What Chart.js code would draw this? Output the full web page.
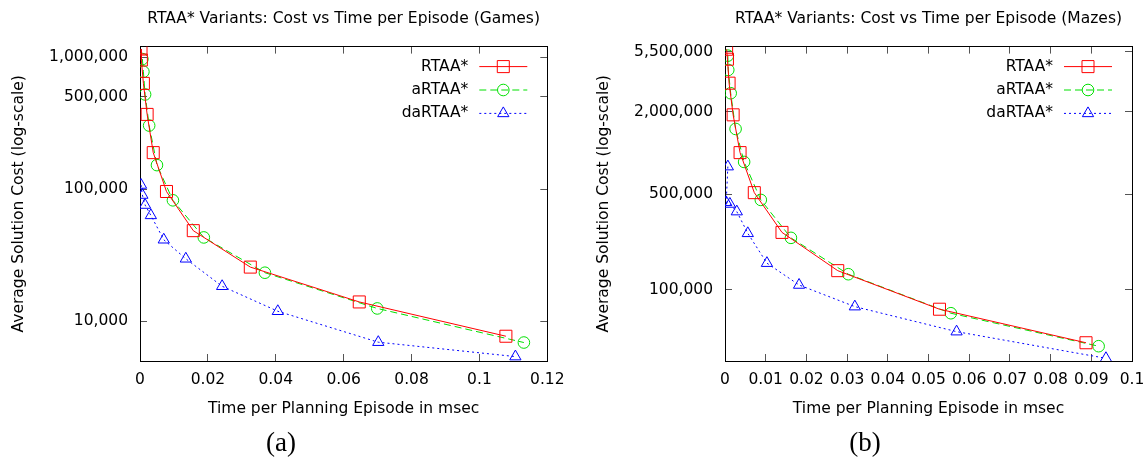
<!DOCTYPE html>
<html>
<head>
<meta charset="utf-8">
<script src="https://cdn.jsdelivr.net/npm/chart.js@4.4.0/dist/chart.umd.min.js"></script>
<style>
  body { margin: 0; background: #fff; }
  #wrap { position: relative; width: 1148px; height: 462px; overflow: hidden; }
  canvas { position: absolute; top: 0; }
  #games { left: 0; }
  #mazes { left: 574px; }
  .cap { position: absolute; top: 427px; width: 100px; text-align: center;
         font-family: "Liberation Serif", serif; font-size: 27px; line-height: 30px; }
</style>
</head>
<body>
<div id="wrap">
  <canvas id="games" width="574" height="462"></canvas>
  <canvas id="mazes" width="574" height="462"></canvas>
  <div class="cap" style="left:231px">(a)</div>
  <div class="cap" style="left:815px">(b)</div>
</div>
<script>
// Series
const series = ["RTAA*", "aRTAA*", "daRTAA*"];

// (a) Games: tiempo por episodio (msec) y costo promedio
const gamesRtaaT = [0.0003, 0.0004, 0.001, 0.0021, 0.0039, 0.0078, 0.0157, 0.0325, 0.0646, 0.1078];
const gamesRtaaC = [1150000, 950000, 632000, 368000, 189000, 96000, 48500, 25700, 14000, 7700];
const gamesARtaaT = [0.0007, 0.001, 0.0015, 0.0027, 0.005, 0.0097, 0.0188, 0.0368, 0.0699, 0.1131];
const gamesARtaaC = [966000, 774000, 521000, 303000, 152000, 82300, 43100, 23300, 12500, 6900];
const gamesDaRtaaT = [0.0003, 0.0007, 0.0015, 0.0032, 0.007, 0.0135, 0.0242, 0.0406, 0.0702, 0.1106];
const gamesDaRtaaC = [107500, 90300, 75800, 63300, 41400, 29700, 18400, 11900, 6940, 5400];

// (b) Mazes
const mazesRtaaT = [0.0004, 0.0006, 0.001, 0.002, 0.0037, 0.0072, 0.014, 0.0277, 0.0527, 0.0887];
const mazesRtaaC = [5740000, 4850000, 3240000, 1900000, 1005000, 512000, 262000, 137500, 71800, 40800];
const mazesARtaaT = [0.0007, 0.0008, 0.0014, 0.0026, 0.0047, 0.0088, 0.0162, 0.0303, 0.0555, 0.0918];
const mazesARtaaC = [5150000, 4050000, 2735000, 1498000, 859000, 453000, 239000, 129500, 67100, 38500];
const mazesDaRtaaT = [0.0007, 0.0003, 0.0012, 0.0029, 0.0056, 0.0103, 0.0182, 0.0319, 0.0569, 0.0936];
const mazesDaRtaaC = [794000, 435000, 423000, 372000, 258000, 156000, 108000, 75000, 49200, 31400];

// Ticks
const xTicksGames = [0, 0.02, 0.04, 0.06, 0.08, 0.1, 0.12];
const xTicksMazes = [0, 0.01, 0.02, 0.03, 0.04, 0.05, 0.06, 0.07, 0.08, 0.09, 0.1];
const yTicksGames = [10000, 100000, 500000, 1000000];
const yTicksMazes = [100000, 500000, 2000000, 5500000];

Chart.defaults.font.family = "'DejaVu Sans', sans-serif";
Chart.defaults.font.size = 15.5;
Chart.defaults.color = "#000";

const estilos = [
  { color: "#ff0000", dash: [], punto: "rect", radio: 8.5 },
  { color: "#00e000", dash: [7, 4], punto: "circle", radio: 5.8 },
  { color: "#0000ff", dash: [2, 3], punto: "triangle", radio: 6.5 },
];

function armarDatasets(tiempos, costos) {
  return series.map((nombre, i) => ({
    label: nombre,
    data: tiempos[i].map((t, j) => ({ x: t, y: costos[i][j] })),
    borderColor: estilos[i].color,
    borderWidth: 1,
    borderDash: estilos[i].dash,
    pointStyle: estilos[i].punto,
    pointRadius: estilos[i].radio,
    pointBorderColor: estilos[i].color,
    pointBackgroundColor: "rgba(0,0,0,0)",
    pointBorderWidth: 1,
    tension: 0,
    fill: false,
  }));
}

// leyenda al estilo gnuplot: texto a la izquierda, muestra a la derecha
const leyendaGnuplot = {
  id: "leyendaGnuplot",
  afterDatasetsDraw(chart) {
    const { ctx, chartArea } = chart;
    ctx.save();
    chart.data.datasets.forEach((ds, i) => {
      const y = chartArea.top + 20 + i * 23.4;
      ctx.font = "15.5px 'DejaVu Sans'";
      ctx.fillStyle = "#000";
      ctx.textAlign = "right";
      ctx.textBaseline = "middle";
      ctx.fillText(ds.label, chartArea.right - 79, y);
      ctx.strokeStyle = ds.borderColor;
      ctx.lineWidth = 1;
      ctx.setLineDash(ds.borderDash);
      ctx.beginPath();
      ctx.moveTo(chartArea.right - 68, y);
      ctx.lineTo(chartArea.right - 20, y);
      ctx.stroke();
      ctx.setLineDash([]);
      ctx.fillStyle = "rgba(0,0,0,0)";
      Chart.helpers.drawPoint(
        ctx,
        { pointStyle: ds.pointStyle, radius: ds.pointRadius, rotation: 0, borderWidth: 1 },
        chartArea.right - 44,
        y
      );
    });
    ctx.restore();
  },
};

function grafico(id, titulo, datasets, xTicks, yTicks, yMin, yMax, anchoY, padTituloY, padDerecha) {
  const gridTicks = { drawOnChartArea: false, tickLength: -7, tickColor: "#555", lineWidth: 1 };
  const borde = { color: "#000", width: 1 };
  const ponerTicks = (lista) => (s) => {
    s.ticks = lista.map((v) => ({ value: v }));
  };
  // sin relleno extra de las etiquetas, para fijar el área del gráfico
  const sinRelleno = (alto) => (s) => {
    s.height = alto;
    s.paddingLeft = 0;
    s.paddingRight = 0;
  };
  new Chart(document.getElementById(id), {
    type: "line",
    data: { datasets: datasets },
    plugins: [leyendaGnuplot],
    options: {
      responsive: false,
      animation: false,
      devicePixelRatio: 1,
      layout: { padding: { top: 0, left: 0, bottom: 0, right: padDerecha } },
      plugins: {
        legend: { display: false },
        tooltip: { enabled: false },
        title: {
          display: true,
          fullSize: false,
          text: titulo,
          color: "#000",
          font: { size: 15.5, weight: "normal" },
          padding: { top: 10, bottom: 18 },
        },
      },
      scales: {
        x: {
          type: "linear",
          position: "bottom",
          min: xTicks[0],
          max: xTicks[xTicks.length - 1],
          afterBuildTicks: ponerTicks(xTicks),
          afterFit: sinRelleno(101),
          ticks: { padding: 16.7, maxRotation: 0, autoSkip: false, callback: (v) => String(v) },
          grid: gridTicks,
          border: borde,
          title: {
            display: true,
            text: "Time per Planning Episode in msec",
            padding: { top: 0, bottom: 44 },
          },
        },
        x2: {
          type: "linear",
          position: "top",
          min: xTicks[0],
          max: xTicks[xTicks.length - 1],
          afterBuildTicks: ponerTicks(xTicks),
          afterFit: sinRelleno(0),
          ticks: { display: false },
          grid: gridTicks,
          border: borde,
        },
        y: {
          type: "logarithmic",
          position: "left",
          min: yMin,
          max: yMax,
          afterBuildTicks: ponerTicks(yTicks),
          afterFit: (s) => { s.width = anchoY; },
          ticks: { padding: 19, callback: (v) => Number(v).toLocaleString("en-US") },
          grid: gridTicks,
          border: borde,
          title: {
            display: true,
            text: "Average Solution Cost (log-scale)",
            padding: { top: padTituloY, bottom: 0 },
          },
        },
        y2: {
          type: "logarithmic",
          position: "right",
          min: yMin,
          max: yMax,
          afterBuildTicks: ponerTicks(yTicks),
          afterFit: (s) => { s.width = 0; },
          ticks: { display: false },
          grid: gridTicks,
          border: borde,
        },
      },
    },
  });
}

grafico(
  "games",
  "RTAA* Variants: Cost vs Time per Episode (Games)",
  armarDatasets([gamesRtaaT, gamesARtaaT, gamesDaRtaaT], [gamesRtaaC, gamesARtaaC, gamesDaRtaaC]),
  xTicksGames, yTicksGames, 5000, 1200000, 140, 9.7, 26.7
);

grafico(
  "mazes",
  "RTAA* Variants: Cost vs Time per Episode (Mazes)",
  armarDatasets([mazesRtaaT, mazesARtaaT, mazesDaRtaaT], [mazesRtaaC, mazesARtaaC, mazesDaRtaaC]),
  xTicksMazes, yTicksMazes, 30000, 6000000, 151, 20.7, 16
);
</script>
</body>
</html>
